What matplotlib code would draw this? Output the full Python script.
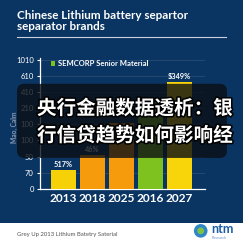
import matplotlib
matplotlib.use("Agg")
import matplotlib.pyplot as plt
import matplotlib.patheffects as pe
from matplotlib.patches import FancyBboxPatch, Rectangle, Circle
from matplotlib.lines import Line2D

# data (values are in the chart's own tick-index units)
years = ["2013", "2018", "2025", "2016", "2027"]
values = [1.2, 2.1, 4.1, 5.6, 6.6]
bar_colors = ["#f6d108", "#f59b0c", "#f59b0c", "#7dc21e", "#f8d40b"]
bar_labels = ["517%", "46%", "", "", "$349%"]
ytick_labels = ["0", "70", "50", "100", "100", "210", "410", "610", "1010"]

NAVY = "#0a3461"

fig = plt.figure(figsize=(2.43, 2.43), dpi=100)
fig.patch.set_facecolor(NAVY)

# white footer band
fig.patches.append(Rectangle((0, 0), 1, 0.082, transform=fig.transFigure,
                             facecolor="white", edgecolor="none", zorder=1))

ax = fig.add_axes([0.1646, 0.2222, 0.679, 0.539])
ax.set_facecolor(NAVY)
x = range(len(years))
ax.bar(x, values, width=0.86, color=bar_colors, zorder=3)
for i, lab in enumerate(bar_labels):
    if lab:
        ax.text(i, values[i] + 0.12, lab, ha="center", va="bottom",
                color="white", fontsize=5.3, family="Lato", fontweight="bold")

ax.set_xlim(-0.81, 4.88)
ax.set_ylim(0, 8.1)
ax.set_xticks(list(x))
ax.set_xticklabels(years, color="white", fontsize=8.6, fontweight="bold", family="Lato")
ax.set_yticks(range(len(ytick_labels)))
ax.set_yticklabels(ytick_labels, color="white", fontsize=5.5, family="Lato")
ax.tick_params(axis="x", length=0, pad=3)
ax.tick_params(axis="y", length=2.5, width=0.8, color="white", pad=2)
ax.grid(axis="y", color="white", alpha=0.12, linewidth=0.6, zorder=0)
for s in ["top", "right"]:
    ax.spines[s].set_visible(False)
for s in ["left", "bottom"]:
    ax.spines[s].set_color("white")
    ax.spines[s].set_linewidth(0.9)

fig.text(0.058, 0.477, "Mao, Calm", rotation=90, ha="center", va="center",
         color="#8c9ab0", fontsize=4.8, family="Lato", fontweight="bold")

# legend
fig.patches.append(Rectangle((0.21, 0.73), 0.018, 0.018, transform=fig.transFigure,
                             facecolor="#7dc21e", edgecolor="none", zorder=4))
fig.text(0.238, 0.739, "SEMCORP Senior Material", color="white", fontsize=5.5,
         family="Lato", fontweight="bold", va="center")

# title
fig.text(0.07, 0.922, "Chinese Lithium battery separtor", color="white",
         fontsize=8.4, fontweight="bold", family="Lato", va="baseline")
fig.text(0.07, 0.876, "separator brands", color="white",
         fontsize=8.4, fontweight="bold", family="Lato", va="baseline")
fig.lines.append(Line2D([0.07, 0.93], [0.848, 0.848], transform=fig.transFigure,
                        color="#c8d2e0", linewidth=0.8))

# overlay banner
fig.patches.append(FancyBboxPatch((0.07, 0.35), 0.864, 0.305,
                                  boxstyle="round,pad=0,rounding_size=0.03",
                                  transform=fig.transFigure, facecolor="#0b0f14",
                                  edgecolor="none", alpha=0.8, zorder=5))
stroke = [pe.withStroke(linewidth=2.2, foreground="black")]
fig.text(0.152, 0.553, "央行金融数据透析：银", color="white", fontsize=14.1,
         fontweight="bold", family=["Noto Sans CJK SC", "DejaVu Sans"],
         va="center", zorder=6, path_effects=stroke)
fig.text(0.152, 0.442, "行信贷趋势如何影响经", color="white", fontsize=14.1,
         fontweight="bold", family=["Noto Sans CJK SC", "DejaVu Sans"],
         va="center", zorder=6, path_effects=stroke)

# footer
fig.text(0.07, 0.037, "Grey Up 2013 Lithium Batetry Saterial", color="#555555",
         fontsize=4.3, family="Lato", va="center", zorder=3)
fig.patches.append(Circle((0.826, 0.05), 0.028, transform=fig.transFigure,
                          facecolor="#2f86c8", edgecolor="none", zorder=3))
fig.patches.append(Circle((0.826, 0.05), 0.014, transform=fig.transFigure,
                          facecolor="#7dc242", edgecolor="none", zorder=4))
fig.text(0.87, 0.058, "ntm", color="#1c5da6", fontsize=9, fontweight="bold",
         family="Lato", va="center", zorder=3)
fig.text(0.872, 0.022, "Research", color="#6a9bd0", fontsize=2.8,
         family="Lato", va="center", zorder=3)

fig.savefig("out.png", dpi=100, facecolor=fig.get_facecolor())
